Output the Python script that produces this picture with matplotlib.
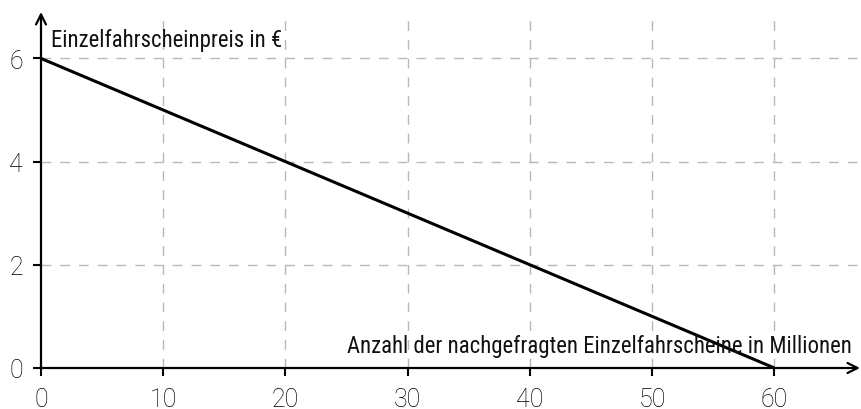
import matplotlib
matplotlib.use("Agg")
import matplotlib.pyplot as plt

# Demand line (price vs. number of tickets)
menge = [0, 60]
preis = [6, 0]

x_ticks = [0, 10, 20, 30, 40, 50, 60]
y_ticks = [0, 2, 4, 6]

y_label = "Einzelfahrscheinpreis in €"
x_label = "Anzahl der nachgefragten Einzelfahrscheine in Millionen"

label_font = ["Liberation Sans Narrow", "Roboto Condensed", "DejaVu Sans"]

fig = plt.figure(figsize=(8.61, 4.10), dpi=100)
ax = fig.add_axes([41 / 861, 41 / 410, 819 / 861, 356 / 410])
ax.set_xlim(0, 67)
ax.set_ylim(0, 6.9)

for s in ax.spines.values():
    s.set_visible(False)

# grid
for xv in x_ticks[1:]:
    ax.axvline(xv, color="#b8b8b8", lw=1, linestyle=(0, (7, 6.5)), zorder=0)
for yv in y_ticks[1:]:
    ax.axhline(yv, color="#b8b8b8", lw=1, linestyle=(0, (7, 6.5)), zorder=0)

# axes with arrows
ax.annotate("", xy=(67, 0), xytext=(0, 0),
            arrowprops=dict(arrowstyle="->", lw=1.6, color="black", shrinkA=0, shrinkB=0, mutation_scale=18),
            annotation_clip=False)
ax.annotate("", xy=(0, 6.9), xytext=(0, 0),
            arrowprops=dict(arrowstyle="->", lw=1.6, color="black", shrinkA=0, shrinkB=0, mutation_scale=18),
            annotation_clip=False)

ax.plot(menge, preis, color="black", lw=2.2, solid_capstyle="butt", zorder=3)

ax.set_xticks(x_ticks)
ax.set_yticks(y_ticks)
ax.tick_params(axis="both", direction="out", length=6, width=1.5, color="black",
               labelsize=18, labelcolor="black")
ax.tick_params(axis="x", pad=8)
ax.tick_params(axis="y", pad=7)
for lab in ax.get_xticklabels() + ax.get_yticklabels():
    lab.set_family(["Roboto", "DejaVu Sans"])
    lab.set_fontweight("light")

ax.text(0.8, 6.25, y_label, fontsize=16.4, family=label_font, stretch="condensed",
        ha="left", va="baseline", color="#111111")
ax.text(66.3, 0.31, x_label, fontsize=16.4, family=label_font, stretch="condensed",
        ha="right", va="baseline", color="#111111")

fig.savefig("out.png", dpi=100)
